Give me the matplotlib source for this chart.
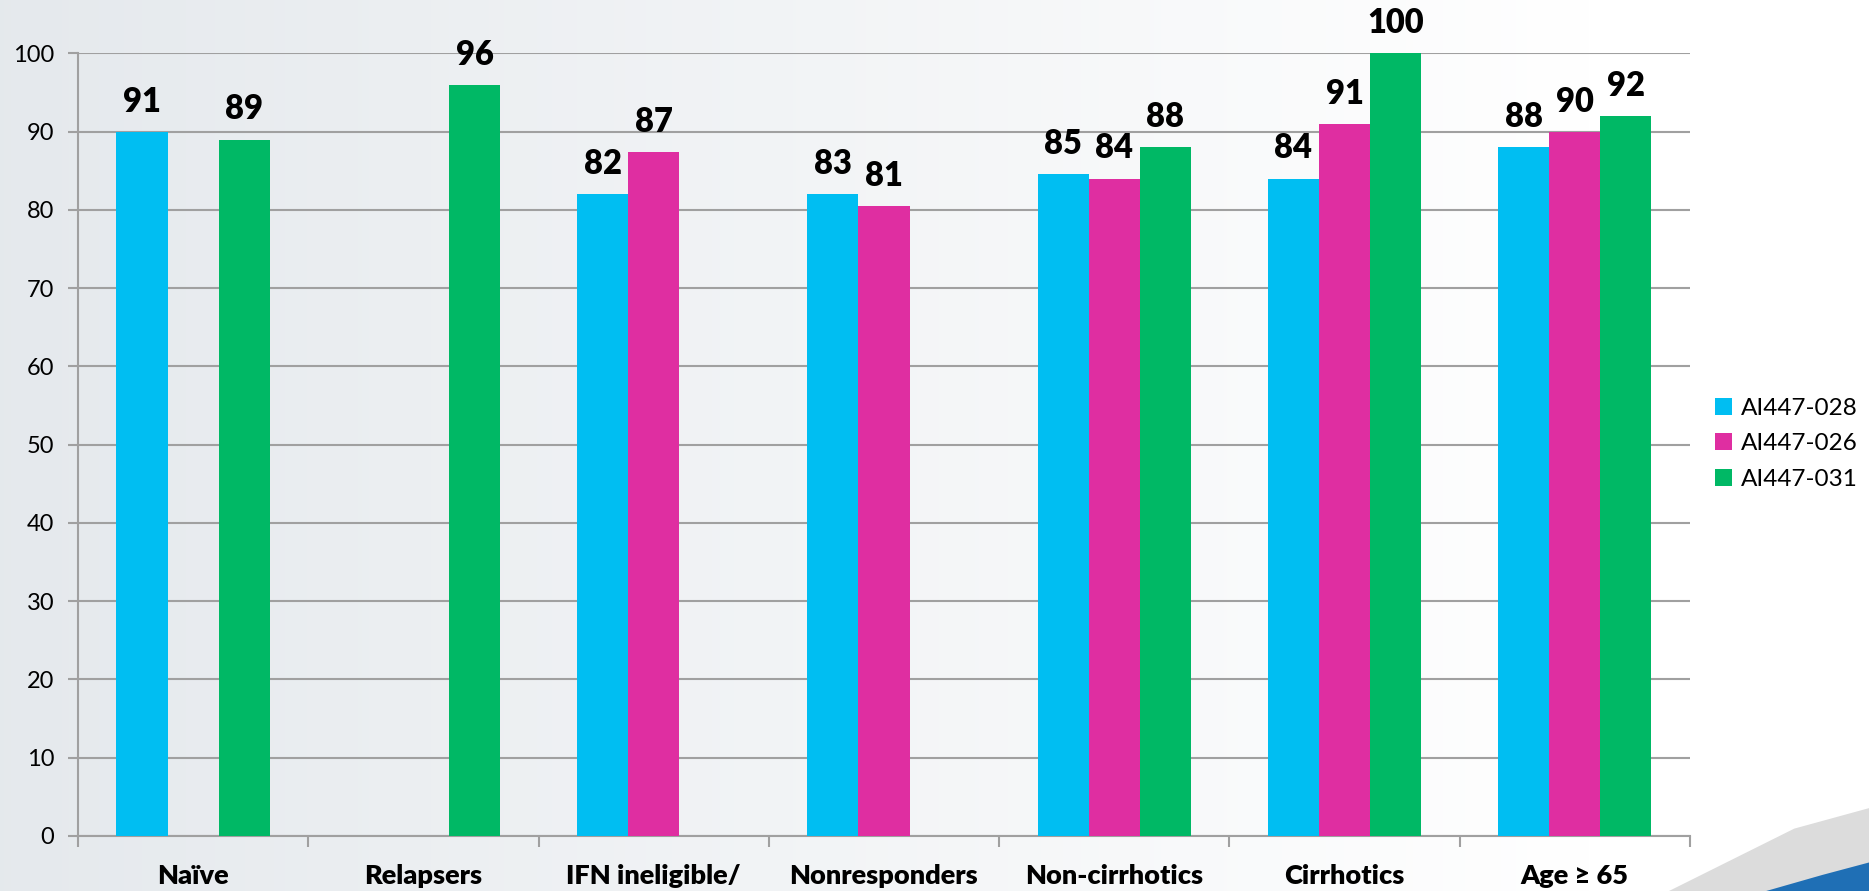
import numpy as np
import matplotlib
matplotlib.use("Agg")
import matplotlib.pyplot as plt
from matplotlib.patches import Polygon

# ---- data ----
categories = ["Naïve", "Relapsers", "IFN ineligible/", "Nonresponders",
              "Non-cirrhotics", "Cirrhotics", "Age ≥ 65"]
series_names = ["AI447-028", "AI447-026", "AI447-031"]
colors = ["#00BEF2", "#DF2EA1", "#00B865"]
# bar heights as drawn
h_028 = [90, np.nan, 82, 82, 84.6, 84, 88]
h_026 = [np.nan, np.nan, 87.4, 80.5, 84, 91, 90]
h_031 = [89, 96, np.nan, np.nan, 88, 100, 92]
# value labels as printed
lab_028 = ["91", "", "82", "83", "85", "84", "88"]
lab_026 = ["", "", "87", "81", "84", "91", "90"]
lab_031 = ["89", "96", "", "", "88", "100", "92"]
yticks = [0, 10, 20, 30, 40, 50, 60, 70, 80, 90, 100]

heights = [h_028, h_026, h_031]
labels = [lab_028, lab_026, lab_031]

plt.rcParams['font.family'] = ['Lato', 'DejaVu Sans']

fig = plt.figure(figsize=(18.69, 8.91), dpi=100)

# background gradient
bg = fig.add_axes([0, 0, 1, 1], zorder=-10)
grad = np.linspace(0, 1, 512)
c0 = np.array([0.898, 0.914, 0.929])
c1 = np.array([1.0, 1.0, 1.0])
t = np.clip(grad / 0.85, 0, 1)[None, :, None]
img = c0 * (1 - t) + c1 * t
img = np.repeat(img, 2, axis=0)
bg.imshow(img, aspect='auto', extent=[0, 1, 0, 1])
# decorative swoosh bottom-right
bg.add_patch(Polygon([[0.893, 0.0], [1.0, 0.0], [1.0, 0.093], [0.96, 0.07]],
                     closed=True, facecolor="#DCDCDC", edgecolor='none'))
bg.add_patch(Polygon([[0.945, 0.0], [1.0, 0.0], [1.0, 0.032], [0.975, 0.018]],
                     closed=True, facecolor="#1F6FB5", edgecolor='none'))
bg.set_xlim(0, 1)
bg.set_ylim(0, 1)
bg.axis('off')

ax = fig.add_axes([0.0417, 0.062, 0.8625, 0.878])
ax.set_facecolor('none')

x = np.arange(len(categories))
w = 0.222
offsets = [-w, 0, w]
for i in range(3):
    ax.bar(x + offsets[i], heights[i], width=w, color=colors[i],
           label=series_names[i], zorder=3)
    for j in range(len(categories)):
        if labels[i][j] and not np.isnan(heights[i][j]):
            ax.annotate(labels[i][j], (x[j] + offsets[i], heights[i][j]),
                        xytext=(0, 14.5), textcoords='offset points',
                        ha='center', va='baseline', fontsize=23.5,
                        fontweight='heavy', color='black', annotation_clip=False)

ax.set_xlim(-0.5, len(categories) - 0.5)
ax.set_ylim(0, 100)
ax.set_yticks(yticks)
ax.tick_params(axis='y', labelsize=17, length=7, width=1.5, color='#A0A0A0', pad=10)
for lab in ax.get_yticklabels():
    lab.set_clip_on(False)
ax.grid(axis='y', color='#A0A0A0', linewidth=1.5, zorder=0)
ax.set_axisbelow(True)

# x ticks at category boundaries, labels at centers
ax.set_xticks(np.arange(-0.5, len(categories), 1.0))
ax.set_xticklabels([])
ax.set_xticks(x, minor=True)
ax.set_xticklabels(categories, minor=True, fontsize=19.5, fontweight='heavy')
ax.tick_params(axis='x', which='major', length=8, width=1.5, color='#A0A0A0')
ax.tick_params(axis='x', which='minor', length=0, pad=20)

for s in ['top', 'right']:
    ax.spines[s].set_visible(False)
for s in ['left', 'bottom']:
    ax.spines[s].set_color('#A0A0A0')
    ax.spines[s].set_linewidth(1.5)

leg = fig.legend(loc='upper left', bbox_to_anchor=(0.906, 0.578),
                 frameon=False, fontsize=17.5, handlelength=0.7,
                 handleheight=0.7, handletextpad=0.35, labelspacing=0.6)

fig.savefig("out.png", dpi=100)
